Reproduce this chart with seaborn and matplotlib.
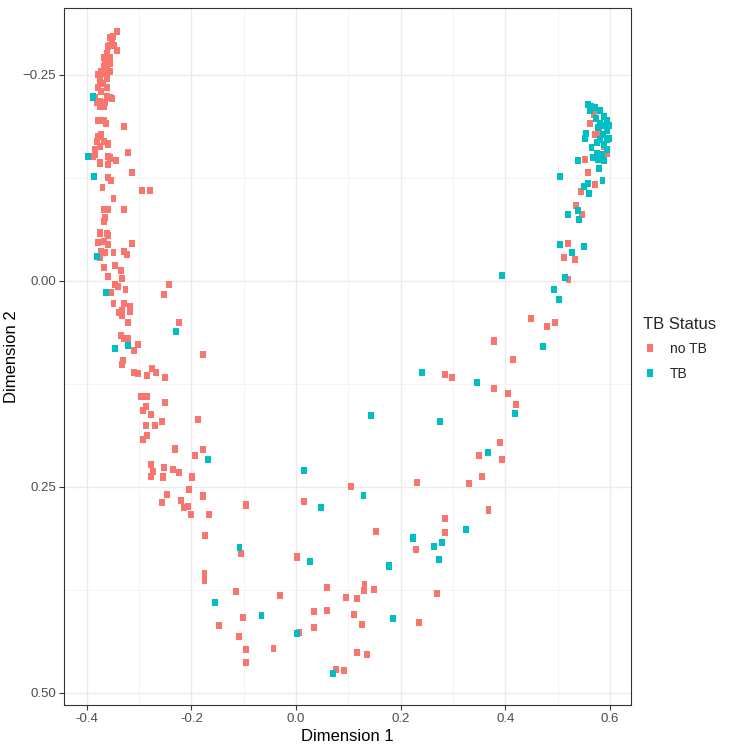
import numpy as np
import pandas as pd
import matplotlib
matplotlib.use("Agg")
import matplotlib.pyplot as plt
import seaborn as sns
from matplotlib.ticker import FixedLocator

# ---- data ----
no_tb_x = [
    -0.343, -0.350, -0.356, -0.356, -0.343, -0.359, -0.362, -0.356, -0.365, -0.359,
    -0.368, -0.362, -0.372, -0.365, -0.378, -0.375, -0.356, -0.356, -0.378, -0.372,
    -0.362, -0.356, -0.352, -0.384, -0.375, -0.365, -0.381, -0.375, -0.368,
    -0.352, -0.348, -0.367, -0.361, -0.369, -0.375, -0.361,
    -0.378, -0.368, -0.364, -0.329, -0.378, -0.372, -0.381, -0.368, -0.359, -0.375,
    -0.384, -0.384, -0.322, -0.359, -0.356, -0.345, -0.375, -0.359, -0.313, -0.359,
    -0.354, -0.370, -0.295, -0.280, -0.349, -0.388,
    -0.368, -0.359, -0.328, -0.365, -0.368, -0.375, -0.362, -0.359, -0.378, -0.367,
    -0.360, -0.313, -0.372, -0.365, -0.349, -0.328, -0.324, -0.375, -0.367, -0.346,
    -0.335, -0.359, -0.333, -0.346, -0.340, -0.326, -0.354, -0.243, -0.252,
    -0.349, -0.329, -0.317, -0.333, -0.317, -0.338, -0.333, -0.322, -0.224, -0.335,
    -0.328, -0.322, -0.303, -0.309, -0.331, -0.333, -0.309, -0.302, -0.276, -0.268,
    -0.285, -0.250, -0.177, -0.296, -0.284, -0.250,
    -0.287, -0.293, -0.278, -0.188, -0.256, -0.287, -0.269, -0.284, -0.293, -0.231,
    -0.178, -0.193, -0.277, -0.252, -0.235, -0.224, -0.273, -0.277, -0.254, -0.199,
    -0.204, -0.246, -0.177, -0.257, -0.219, -0.214, -0.206, -0.201, -0.166, -0.096,
    -0.174, -0.105, 0.002, -0.175, -0.175, 0.059, -0.114, -0.031, 0.096, 0.116,
    0.034, 0.059, 0.110, -0.101, -0.147, 0.034, -0.109, 0.005, -0.096, -0.043,
    0.117, -0.096, 0.077, 0.092, 0.016, 0.105, 0.136,
    0.131, 0.130, 0.150, 0.270, 0.127, 0.235, 0.153, 0.231, 0.229, 0.285,
    0.284, 0.331, 0.356, 0.368, 0.350, 0.390, 0.393, 0.421, 0.405, 0.379,
    0.284, 0.298, 0.415, 0.379,
    0.449, 0.480, 0.495, 0.521, 0.513, 0.534, 0.520, 0.535, 0.547, 0.544,
    0.572, 0.559, 0.553, 0.589, 0.594, 0.572, 0.580, 0.563, 0.570,
]
no_tb_y = [
    -0.302, -0.296, -0.295, -0.286, -0.279, -0.284, -0.276, -0.271, -0.266, -0.265,
    -0.260, -0.258, -0.254, -0.252, -0.250, -0.246, -0.264, -0.254, -0.234, -0.230,
    -0.224, -0.222, -0.221, -0.222, -0.218, -0.216, -0.216, -0.212, -0.212,
    -0.290, -0.285, -0.271, -0.246, -0.239, -0.239, -0.234,
    -0.195, -0.195, -0.191, -0.187, -0.175, -0.178, -0.169, -0.169, -0.166, -0.163,
    -0.159, -0.153, -0.156, -0.151, -0.149, -0.146, -0.143, -0.141, -0.131, -0.125,
    -0.122, -0.113, -0.110, -0.110, -0.100, -0.151,
    -0.086, -0.086, -0.087, -0.077, -0.072, -0.058, -0.057, -0.055, -0.046, -0.048,
    -0.044, -0.045, -0.035, -0.034, -0.034, -0.036, -0.032, -0.028, -0.016, -0.019,
    -0.013, -0.005, -0.003, 0.005, 0.007, 0.010, 0.014, 0.004, 0.017,
    0.028, 0.028, 0.031, 0.036, 0.037, 0.038, 0.042, 0.051, 0.051, 0.066,
    0.070, 0.070, 0.077, 0.084, 0.097, 0.101, 0.111, 0.112, 0.106, 0.111,
    0.115, 0.117, 0.089, 0.140, 0.140, 0.148,
    0.153, 0.157, 0.162, 0.168, 0.171, 0.175, 0.176, 0.188, 0.192, 0.204,
    0.205, 0.212, 0.223, 0.227, 0.229, 0.233, 0.231, 0.237, 0.238, 0.238,
    0.253, 0.259, 0.261, 0.269, 0.267, 0.275, 0.274, 0.284, 0.284, 0.272,
    0.309, 0.331, 0.335, 0.355, 0.364, 0.372, 0.377, 0.382, 0.384, 0.385,
    0.401, 0.400, 0.405, 0.408, 0.418, 0.421, 0.432, 0.427, 0.447, 0.446,
    0.451, 0.463, 0.472, 0.473, 0.268, 0.250, 0.453,
    0.368, 0.376, 0.375, 0.379, 0.417, 0.414, 0.304, 0.245, 0.326, 0.288,
    0.305, 0.246, 0.237, 0.278, 0.212, 0.196, 0.217, 0.150, 0.137, 0.131,
    0.114, 0.117, 0.095, 0.073,
    0.046, 0.055, 0.050, -0.002, -0.028, -0.026, -0.045, -0.091, -0.081, -0.108,
    -0.117, -0.131, -0.147, -0.163, -0.155, -0.178, -0.180, -0.191, -0.202,
]
tb_x = [
    -0.388, -0.397, -0.386, -0.381, -0.363, -0.230, -0.321, -0.346, -0.168,
    -0.108, 0.027, -0.154, -0.066, 0.002, 0.070, 0.015, 0.048,
    0.240, 0.346, 0.419, 0.143, 0.276, 0.367, 0.129, 0.325, 0.224, 0.280,
    0.263, 0.273, 0.178, 0.185,
    0.394, 0.515, 0.493, 0.502, 0.473, 0.505, 0.550, 0.527, 0.520, 0.539,
    0.541, 0.551, 0.559, 0.560, 0.586, 0.505, 0.580, 0.539, 0.578, 0.589,
    0.575, 0.565, 0.576, 0.554, 0.553, 0.564, 0.572, 0.581, 0.588, 0.594,
    0.581, 0.589, 0.595, 0.587, 0.595, 0.589, 0.595, 0.581, 0.574, 0.598,
    0.598, 0.562, 0.578, 0.585, 0.568, 0.558,
]
tb_y = [
    -0.223, -0.151, -0.127, -0.029, 0.014, 0.062, 0.079, 0.082, 0.217,
    0.323, 0.341, 0.390, 0.406, 0.428, 0.476, 0.230, 0.275,
    0.111, 0.123, 0.161, 0.163, 0.171, 0.208, 0.260, 0.302, 0.312, 0.317,
    0.322, 0.338, 0.346, 0.410,
    -0.007, -0.004, 0.010, 0.023, 0.080, -0.044, -0.042, -0.034, -0.081, -0.085,
    -0.074, -0.114, -0.118, -0.106, -0.122, -0.127, -0.136, -0.146, -0.147, -0.146,
    -0.155, -0.162, -0.168, -0.179, -0.173, -0.212, -0.210, -0.207, -0.199, -0.195,
    -0.191, -0.189, -0.183, -0.177, -0.171, -0.165, -0.159, -0.171, -0.197, -0.189,
    -0.173, -0.207, -0.186, -0.153, -0.150, -0.214,
]
status_labels = ["no TB", "TB"]
palette_colors = ["#F8766D", "#00BFC4"]
x_ticks = [-0.4, -0.2, 0.0, 0.2, 0.4, 0.6]
x_tick_labels = ["-0.4", "-0.2", "0.0", "0.2", "0.4", "0.6"]
y_ticks = [-0.25, 0.0, 0.25, 0.50]
y_tick_labels = ["\u22120.25", "0.00", "0.25", "0.50"]

df = pd.DataFrame({
    "Dimension 1": no_tb_x + tb_x,
    "Dimension 2": no_tb_y + tb_y,
    "TB Status": [status_labels[0]] * len(no_tb_x) + [status_labels[1]] * len(tb_x),
})

sns.set_theme(style="white")
plt.rcParams["font.family"] = ["Liberation Sans", "DejaVu Sans"]

fig = plt.figure(figsize=(7.36, 7.45), dpi=100)
ax = fig.add_axes([64 / 736, 40 / 745, (631 - 64) / 736, (705 - 8) / 745])

# slightly tall square, as rendered in the reference
rect_marker = [(-0.42, -0.5), (0.42, -0.5), (0.42, 0.5), (-0.42, 0.5), (-0.42, -0.5)]

sns.scatterplot(
    data=df, x="Dimension 1", y="Dimension 2", hue="TB Status",
    hue_order=status_labels, palette=dict(zip(status_labels, palette_colors)),
    marker=rect_marker, s=26, linewidth=0, alpha=1, ax=ax, zorder=3,
)

ax.set_xlim(-0.4436, 0.6405)
ax.set_ylim(0.5146, -0.331)

ax.xaxis.set_major_locator(FixedLocator(x_ticks))
ax.yaxis.set_major_locator(FixedLocator(y_ticks))
ax.xaxis.set_minor_locator(FixedLocator([-0.3, -0.1, 0.1, 0.3, 0.5]))
ax.yaxis.set_minor_locator(FixedLocator([-0.125, 0.125, 0.375]))
ax.set_xticklabels(x_tick_labels)
ax.set_yticklabels(y_tick_labels)

ax.grid(True, which="major", color="#EBEBEB", linewidth=1.0, zorder=0)
ax.grid(True, which="minor", color="#F2F2F2", linewidth=0.6, zorder=0)
ax.set_axisbelow(True)

for sp in ax.spines.values():
    sp.set_color("#333333")
    sp.set_linewidth(0.8)

ax.tick_params(axis="both", which="major", length=3.5, width=0.8, color="#333333",
               labelsize=9.5, labelcolor="#4D4D4D", pad=2, bottom=True, left=True)
ax.tick_params(axis="both", which="minor", length=0)

ax.set_xlabel("Dimension 1", fontsize=12, color="black", labelpad=3)
ax.set_ylabel("Dimension 2", fontsize=12, color="black")
ax.yaxis.set_label_coords(-0.080, 0.5)

leg = ax.legend(title="TB Status", loc="center left", bbox_to_anchor=(1.022, 0.511),
                frameon=False, fontsize=10, title_fontsize=12, markerscale=1.0,
                handlelength=1.0, handletextpad=0.9, labelspacing=0.75,
                borderaxespad=0, borderpad=0)
leg._legend_box.align = "left"

fig.savefig("out.png", dpi=100)
